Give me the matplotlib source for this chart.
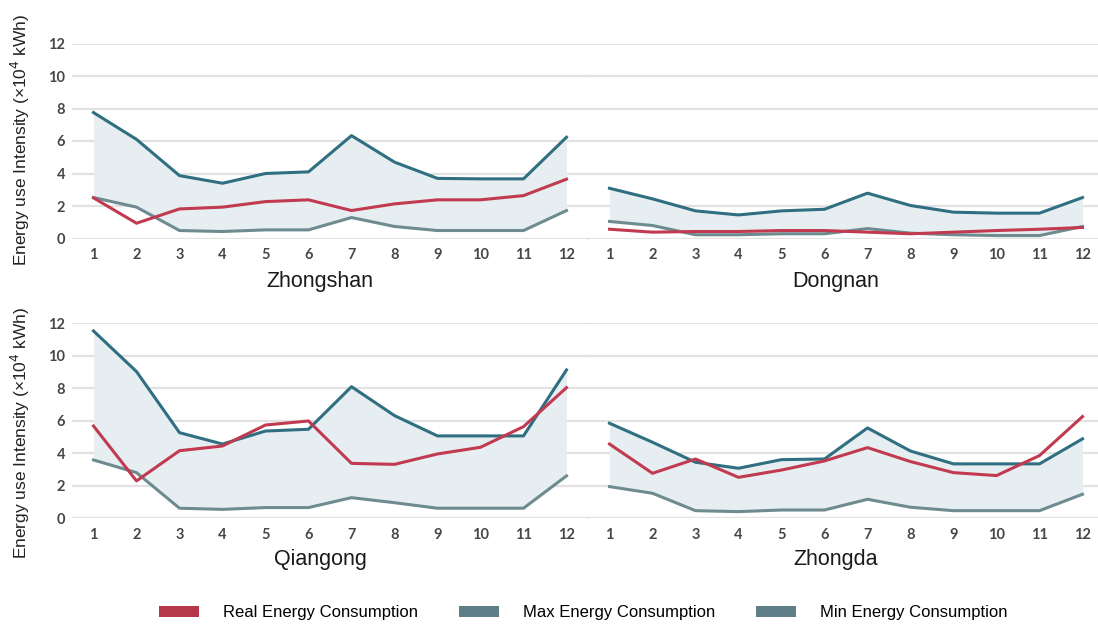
import matplotlib
matplotlib.use("Agg")
import matplotlib.pyplot as plt
from matplotlib.patches import Patch

months = list(range(1, 13))

sites = ["Zhongshan", "Dongnan", "Qiangong", "Zhongda"]

real = {
    "Zhongshan": [2.50, 0.94, 1.82, 1.93, 2.27, 2.38, 1.72, 2.13, 2.38, 2.38, 2.64, 3.65],
    "Dongnan":   [0.57, 0.39, 0.43, 0.43, 0.49, 0.49, 0.39, 0.29, 0.39, 0.49, 0.57, 0.68],
    "Qiangong":  [5.68, 2.30, 4.16, 4.45, 5.74, 5.99, 3.38, 3.32, 3.96, 4.37, 5.64, 8.04],
    "Zhongda":   [4.57, 2.77, 3.65, 2.52, 2.97, 3.53, 4.35, 3.49, 2.81, 2.63, 3.86, 6.26],
}
max_use = {
    "Zhongshan": [7.75, 6.10, 3.87, 3.40, 4.00, 4.10, 6.33, 4.70, 3.70, 3.67, 3.67, 6.23],
    "Dongnan":   [3.09, 2.44, 1.70, 1.45, 1.70, 1.80, 2.79, 2.03, 1.62, 1.56, 1.56, 2.52],
    "Qiangong":  [11.53, 9.03, 5.27, 4.57, 5.37, 5.48, 8.10, 6.32, 5.07, 5.07, 5.07, 9.13],
    "Zhongda":   [5.85, 4.68, 3.45, 3.08, 3.61, 3.65, 5.56, 4.14, 3.35, 3.35, 3.35, 4.89],
}
min_use = {
    "Zhongshan": [2.52, 1.93, 0.49, 0.43, 0.53, 0.53, 1.29, 0.74, 0.49, 0.49, 0.49, 1.72],
    "Dongnan":   [1.05, 0.80, 0.23, 0.23, 0.29, 0.29, 0.61, 0.33, 0.23, 0.18, 0.18, 0.74],
    "Qiangong":  [3.59, 2.81, 0.62, 0.55, 0.66, 0.66, 1.27, 0.96, 0.62, 0.62, 0.62, 2.61],
    "Zhongda":   [1.95, 1.54, 0.47, 0.41, 0.51, 0.51, 1.17, 0.68, 0.47, 0.47, 0.47, 1.48],
}

legend_labels = ["Real Energy Consumption", "Max Energy Consumption", "Min Energy Consumption"]
y_label = "Energy use Intensity (×10$^4$ kWh)"

RED = "#c13a50"
MAX_C = "#2f6f81"
MIN_C = "#6e8b90"
FILL = "#e7eef2"
GRID = "#e2e2e2"
LEG_RED = "#b6364a"
LEG_GRAY = "#5f7f88"

W, H = 1098, 626
fig = plt.figure(figsize=(W / 100, H / 100), dpi=100)
fig.patch.set_facecolor("white")


def px_axes(x0, x1, y_top, y_bot):
    return fig.add_axes([x0 / W, 1 - y_bot / H, (x1 - x0) / W, (y_bot - y_top) / H])


tick_font = dict(family=["Lato", "DejaVu Sans"], size=10.5, color="#474747", weight="bold")
sans = ["Liberation Sans", "DejaVu Sans"]
rows = [(43.5, 238.5), (323.3, 518.3)]
cols = [(72, 588, (0.5, 12.5)), (588, 1098, (0.5, 0.5 + 510 / 43.0))]
title_pos = {"Zhongshan": (320, 281), "Dongnan": (836, 281),
             "Qiangong": (320, 560), "Zhongda": (836, 560)}

for r, (yt, yb) in enumerate(rows):
    for c, (x0, x1, xl) in enumerate(cols):
        site = sites[r * 2 + c]
        ax = px_axes(x0, x1, yt, yb)
        ax.set_xlim(*xl)
        ax.set_ylim(0, 12)
        for s in ax.spines.values():
            s.set_visible(False)
        ax.set_yticks(range(0, 13, 2))
        ax.yaxis.grid(True, color=GRID, lw=1.6)
        ax.set_axisbelow(True)
        ax.set_xticks(months)
        ax.tick_params(axis="x", length=0, pad=7)
        ax.set_xticklabels([str(m) for m in months], fontdict=tick_font)
        if c == 0:
            ax.tick_params(axis="y", length=0, pad=5)
            ax.set_yticklabels([str(v) for v in range(0, 13, 2)], fontdict=tick_font)
            ax.axvline(12.5, ymin=0, ymax=1, color="#b5b5b5", lw=0.8, ls=(0, (1, 1.5)),
                       clip_on=False, zorder=1)
        else:
            ax.tick_params(axis="y", length=0)
            ax.set_yticklabels([])
        ax.fill_between(months, min_use[site], max_use[site], color=FILL, lw=0, zorder=1)
        ax.plot(months, min_use[site], color=MIN_C, lw=2.2, zorder=3, clip_on=False)
        ax.plot(months, max_use[site], color=MAX_C, lw=2.2, zorder=4, clip_on=False)
        ax.plot(months, real[site], color=RED, lw=2.2, zorder=5, clip_on=False)
        tx, ty = title_pos[site]
        fig.text(tx / W, 1 - ty / H, site, ha="center", va="center",
                 fontsize=15.5, family=sans, color="#1a1a1a")

for yc in (140, 433):
    fig.text(20 / W, 1 - yc / H, y_label, rotation=90, ha="center", va="center",
             fontsize=12.5, family=sans, color="#222222")

handles = [Patch(facecolor=LEG_RED, edgecolor="none"),
           Patch(facecolor=LEG_GRAY, edgecolor="none"),
           Patch(facecolor=LEG_GRAY, edgecolor="none")]
fig.legend(handles, legend_labels, loc="center", bbox_to_anchor=(583 / W, 1 - 613 / H),
           ncol=3, frameon=False, handlelength=2.4, handleheight=0.66, handletextpad=1.45,
           columnspacing=2.45, prop=dict(family=sans, size=12))

fig.savefig("out.png", dpi=100, facecolor="white")
